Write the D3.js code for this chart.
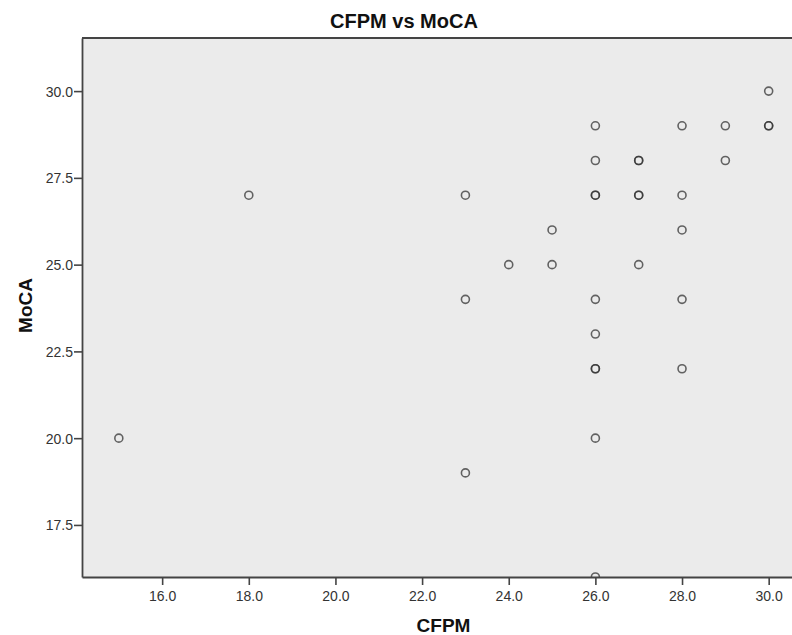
<!DOCTYPE html>
<html><head><meta charset="utf-8">
<script src="https://cdn.jsdelivr.net/npm/d3@7"></script>
<style>
body{margin:0;background:#fff;}
svg{display:block;font-family:"Liberation Sans",Arial,sans-serif;}
</style></head>
<body><svg id="c" width="792" height="635"></svg>
<script>
const cfpm = [15,18,23,23,23,24,25,25,26,26,26,26,26,26,26,26,26,26,27,27,27,27,27,28,28,28,28,28,29,29,30,30,30];
const moca = [20,27,27,24,19,25,26,25,29,28,27,27,24,23,22,22,20,16,28,28,27,27,25,29,27,26,24,22,29,28,30,29,29];
const xTicks = [16,18,20,22,24,26,28,30];
const yTicks = [17.5,20,22.5,25,27.5,30];
const title = "CFPM vs MoCA", xLabel = "CFPM", yLabel = "MoCA";

const svg = d3.select("#c");
const L=82, T=38, B=577, R=812;
const x = d3.scaleLinear().domain([14.15,31]).range([L,R]);
const y = d3.scaleLinear().domain([16,31.53]).range([B,T]);

svg.append("rect").attr("x",L).attr("y",T).attr("width",R-L).attr("height",B-T).attr("fill","#ebebeb");
svg.append("clipPath").attr("id","cp").append("rect").attr("x",L).attr("y",T).attr("width",R-L).attr("height",B-T);

svg.append("g").attr("clip-path","url(#cp)").selectAll("circle").data(cfpm.map((d,i)=>[d,moca[i]]))
  .join("circle").attr("cx",d=>x(d[0])).attr("cy",d=>y(d[1])).attr("r",4)
  .attr("fill","none").attr("stroke","#333").attr("stroke-opacity",0.75).attr("stroke-width",1.6);

const xa = svg.append("g").attr("transform",`translate(0,${B})`)
  .call(d3.axisBottom(x).tickValues(xTicks).tickFormat(d3.format(".1f")).tickSize(8).tickSizeOuter(0));
const ya = svg.append("g").attr("transform",`translate(${L},0)`)
  .call(d3.axisLeft(y).tickValues(yTicks).tickFormat(d3.format(".1f")).tickSize(8).tickSizeOuter(0));
[xa,ya].forEach(a=>{
  a.select(".domain").attr("stroke","#444").attr("stroke-width",1.8);
  a.selectAll(".tick line").attr("stroke","#444").attr("stroke-width",1.6);
  a.selectAll(".tick text").attr("fill","#333").attr("font-size","14px");
});
xa.selectAll(".tick text").attr("y",24).attr("dy",0);
ya.selectAll(".tick text").attr("x",-9).attr("dy","0.36em");
svg.append("line").attr("x1",L).attr("x2",R).attr("y1",T).attr("y2",T).attr("stroke","#444").attr("stroke-width",1.8);

svg.append("text").attr("x",404).attr("y",28).attr("text-anchor","middle").attr("font-weight","bold").attr("font-size","20px").attr("fill","#111").text(title);
svg.append("text").attr("x",443.5).attr("y",632).attr("text-anchor","middle").attr("font-weight","bold").attr("font-size","19px").attr("fill","#111").text(xLabel);
svg.append("text").attr("transform","translate(32,305.5) rotate(-90)").attr("text-anchor","middle").attr("font-weight","bold").attr("font-size","19px").attr("fill","#111").text(yLabel);
</script></body></html>
